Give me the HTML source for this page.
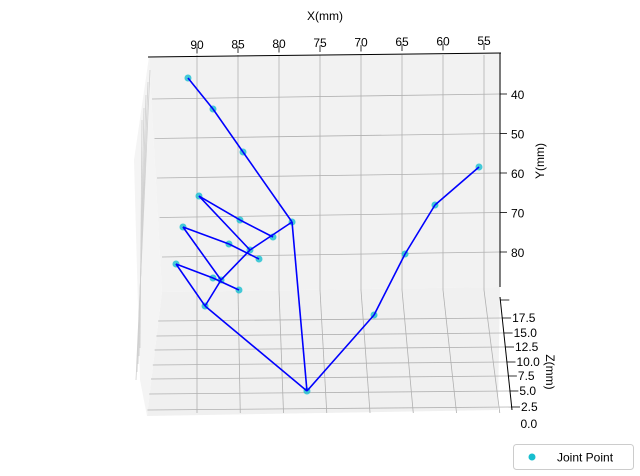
<!DOCTYPE html>
<html><head><meta charset="utf-8"><style>
body{margin:0;background:#fff;}
svg{display:block;font-family:"Liberation Sans","DejaVu Sans",sans-serif;}
</style></head><body>
<svg id="chart" width="640" height="476" viewBox="0 0 640 476">
<g id="panes"></g>
<g id="grid"></g>
<g id="axes"></g>
<g id="marks"></g>
<text x="325" y="20" font-size="12" text-anchor="middle">X(mm)</text>
<text transform="translate(544,161) rotate(-90)" font-size="12" text-anchor="middle">Y(mm)</text>
<text transform="translate(546,372) rotate(90)" font-size="12" text-anchor="middle">Z(mm)</text>
<g>
<rect x="513.5" y="444.5" width="120" height="25" rx="3" fill="#fff" stroke="#ccc"/>
<circle cx="532" cy="457" r="3.5" fill="#17becf"/>
<text x="557" y="461.5" font-size="12">Joint Point</text>
</g>
</svg>
<script>
const xTicks=[90,85,80,75,70,65,60,55];
const yTicks=[40,50,60,70,80];
const zTicks=["","17.5","15.0","12.5","10.0","7.5","5.0","2.5","0.0"];
const jointX=[76.59,68.41,64.63,60.98,55.61,78.41,84.39,88.05,91.10,83.54,89.76,84.76,80.73,87.07,91.71,86.10,82.44,89.02,92.56,88.05,84.88];
const jointY=[114.68,95.44,80.0,67.59,57.97,71.90,54.18,43.29,35.44,78.99,65.32,71.39,75.70,86.58,73.16,77.47,81.27,93.16,82.53,86.08,89.11];
const bonesFrom=[0,1,2,3,0,5,6,7,5,9,10,11,9,13,14,15,13,17,18,19,17];
const bonesTo  =[1,2,3,4,5,6,7,8,9,10,11,12,13,14,15,16,17,18,19,20,0];
const NS="http://www.w3.org/2000/svg";
function sx(x){return 197+(90-x)*8.2;}
function sy(y){return 96+(y-40)*3.95;}
function mk(tag,attrs,parent){const e=document.createElementNS(NS,tag);for(const k in attrs)e.setAttribute(k,attrs[k]);parent.appendChild(e);return e;}
const panes=document.getElementById('panes'),grid=document.getElementById('grid'),axes=document.getElementById('axes'),marks=document.getElementById('marks');
let p=mk('polygon',{points:"149,57 501,53 500,287 162,292",fill:"#f2f2f2"},panes);


p=mk('polygon',{points:"162,292 500,287 498,410 147,416",fill:"#f0f0f0"},panes);


p=mk('polygon',{points:"149,57 162,292 147,416 140,380 134,160",fill:"#f4f4f4"},panes);


const sideTop=[70,82,95,108,120];
sideTop.forEach((t,i)=>{const l=mk('line',{x1:150-i*2,y1:t,x2:136+i,y2:380-i*8,stroke:"#d0d0d0","stroke-width":0.8},grid);

});
xTicks.forEach((v,i)=>{const x=sx(v);const xb=197+(x-197)*1.055;
let l=mk('line',{x1:x,y1:55,x2:x,y2:290,stroke:"#b0b0b0","stroke-width":0.8},grid);


l=mk('line',{x1:x,y1:290,x2:xb,y2:413,stroke:"#b0b0b0","stroke-width":0.8},grid);


l=mk('line',{x1:x,y1:53.5-(i*0.5),x2:x,y2:47-(i*0.5),stroke:"#000","stroke-width":0.8},axes);


const t=mk('text',{x:x,y:49-i*0.6,"font-size":12,"text-anchor":"middle"},axes);t.textContent=v;

});
yTicks.forEach((v,i)=>{const y=sy(v);
let l=mk('line',{x1:152+i*2.5,y1:y+3,x2:500,y2:y-2,stroke:"#b0b0b0","stroke-width":0.8},grid);


l=mk('line',{x1:500,y1:y-2,x2:507,y2:y-2,stroke:"#000","stroke-width":0.8},axes);


const t=mk('text',{x:511,y:y+3,"font-size":12},axes);t.textContent=v;

});
const zY=[300,318,333,347,362,376,391,407,422];
zTicks.forEach((v,i)=>{const y=zY[i];const ax=500+(y-297)*0.1;
if(i>0&&i<8){let g=mk('line',{x1:160-i*1.8,y1:y+3,x2:ax,y2:y,stroke:"#b0b0b0","stroke-width":0.8},grid);

}
if(i<8){let l=mk('line',{x1:ax,y1:y,x2:ax+9,y2:y,stroke:"#000","stroke-width":0.8},axes);

}
const t=mk('text',{x:ax+10-(i===8?2:0),y:y+4+(i===8?2:0),"font-size":12},axes);t.textContent=v;

});
let ax=mk('line',{x1:148,y1:57,x2:501,y2:53,stroke:"#000","stroke-width":1},axes);


ax=mk('line',{x1:500,y1:53,x2:500,y2:287,stroke:"#000","stroke-width":1},axes);


ax=mk('line',{x1:500,y1:297,x2:512,y2:410,stroke:"#000","stroke-width":1},axes);


jointX.forEach((x,i)=>{const c=mk('circle',{cx:sx(x),cy:sy(jointY[i]),r:3.5,fill:"#17becf","fill-opacity":0.8},marks);

});
bonesFrom.forEach((a,i)=>{const b=bonesTo[i];const l=mk('line',{x1:sx(jointX[a]),y1:sy(jointY[a]),x2:sx(jointX[b]),y2:sy(jointY[b]),stroke:"#0000ff","stroke-width":1.6},marks);

});
</script>
</body></html>
